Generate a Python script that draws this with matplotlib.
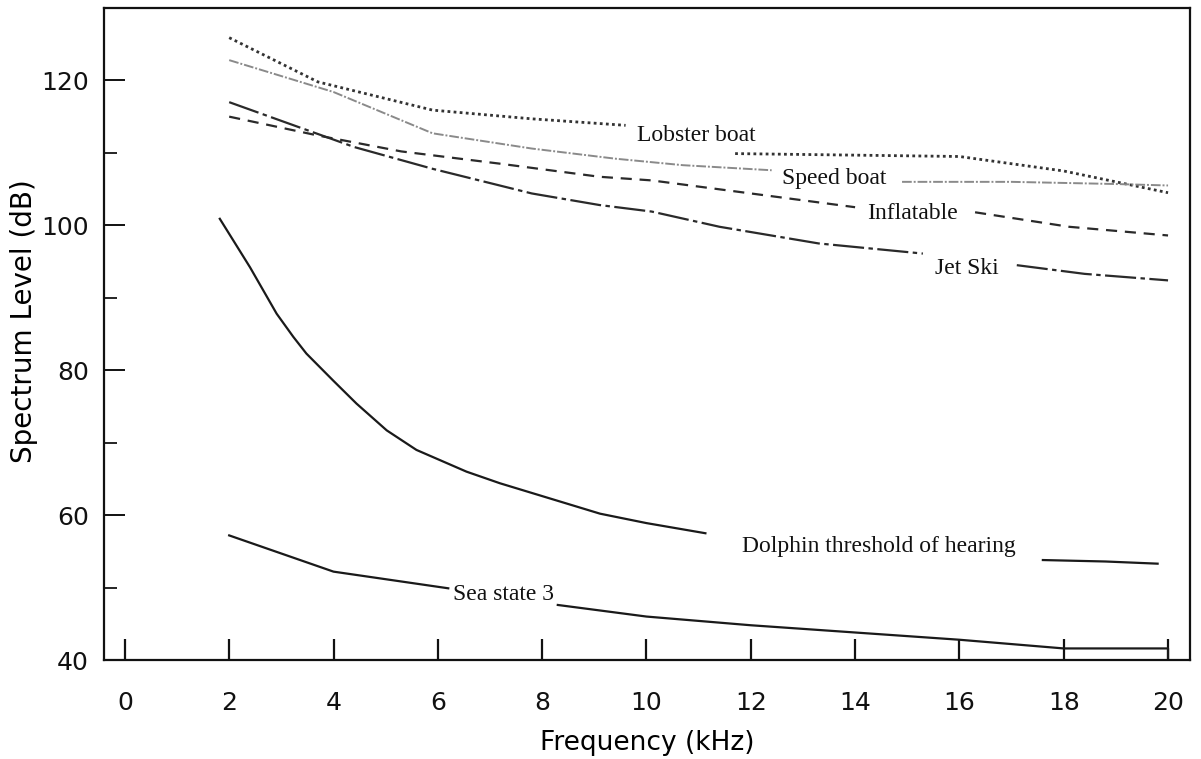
import numpy as np
import matplotlib
matplotlib.use("Agg")
import matplotlib.pyplot as plt
from matplotlib.ticker import MultipleLocator

nan = np.nan

# values (kHz, dB); nan marks the gap left for a label
lobster_khz = [2.0, 3.7, 5.9, 7.8, 9.6, nan, 11.7, 16.0, 18.0, 20.0]
lobster_db = [125.9, 119.8, 115.9, 114.7, 113.8, nan, 109.9, 109.5, 107.5, 104.5]

speed_khz = [2.0, 4.0, 5.9, 7.8, 9.4, 10.7, 12.4, nan, 14.9, 17.0, 19.0, 20.0]
speed_db = [122.8, 118.4, 112.7, 110.6, 109.2, 108.3, 107.6, nan, 106.0, 106.0, 105.7, 105.5]

inflatable_khz = [2.0, 3.7, 5.3, 7.2, 9.1, 10.1, 12.0, 14.0, nan, 16.3, 18.1, 20.0]
inflatable_db = [115.0, 112.4, 110.2, 108.5, 106.7, 106.2, 104.4, 102.5, nan, 101.8, 99.8, 98.6]

jetski_khz = [2.0, 4.4, 5.9, 7.8, 9.1, 10.1, 11.4, 13.3, 15.3, nan, 17.1, 18.4, 20.0]
jetski_db = [117.0, 110.8, 107.8, 104.4, 102.8, 101.9, 99.8, 97.5, 96.1, nan, 94.5, 93.3, 92.4]

dolphin_khz = [1.82, 2.08, 2.4, 2.91, 3.23, 3.48, 3.99, 4.44, 5.02, 5.59, 5.91, 6.55,
               7.19, 7.83, 8.47, 9.11, 10.0, 11.13, nan, 17.6, 18.8, 19.8]
dolphin_db = [100.9, 97.9, 94.2, 87.8, 84.6, 82.3, 78.6, 75.4, 71.7, 69.0, 68.0, 66.0,
              64.4, 63.0, 61.6, 60.2, 58.9, 57.5, nan, 53.8, 53.6, 53.3]

sea_khz = [2.0, 4.0, 6.2, nan, 8.3, 10.0, 12.0, 14.0, 16.0, 18.0, 20.0, 20.0]
sea_db = [57.2, 52.2, 49.9, nan, 47.6, 46.0, 44.8, 43.8, 42.8, 41.6, 41.6, 40.0]

# curve labels and where they sit (kHz, dB)
label_names = ["Lobster boat", "Speed boat", "Inflatable", "Jet Ski",
               "Dolphin threshold of hearing", "Sea state 3"]
label_khz = [10.95, 13.6, 15.1, 16.15, 14.45, 7.25]
label_db = [112.4, 106.4, 101.7, 94.1, 55.7, 49.0]

x_ticks = list(range(0, 21, 2))
y_ticks = [40, 60, 80, 100, 120]

fig = plt.figure(figsize=(12.01, 7.59), dpi=100)
ax = fig.add_axes([0.0866, 0.1304, 0.9042, 0.8591])

ax.plot(lobster_khz, lobster_db, color="#333333", lw=2.0, ls=(0, (1, 1.2)))
ax.plot(speed_khz, speed_db, color="#8a8a8a", lw=1.4, ls=(0, (5, 1, 1, 1)))
ax.plot(inflatable_khz, inflatable_db, color="#2a2a2a", lw=1.6, ls=(0, (5, 3.5)))
ax.plot(jetski_khz, jetski_db, color="#2a2a2a", lw=1.6, ls=(0, (14, 2, 2, 2)))
ax.plot(dolphin_khz, dolphin_db, color="#1a1a1a", lw=1.6)
ax.plot(sea_khz, sea_db, color="#1a1a1a", lw=1.6)

for name, xk, yd in zip(label_names, label_khz, label_db):
    ax.text(xk, yd, name, family="Liberation Serif", fontsize=17,
            ha="center", va="center", color="#111111")

ax.set_xlim(-0.40, 20.42)
ax.set_ylim(40, 130)
ax.set_xticks(x_ticks)
ax.set_yticks(y_ticks)
ax.yaxis.set_minor_locator(MultipleLocator(10))

ax.tick_params(axis="x", direction="in", length=15, width=1.6, pad=22,
               labelsize=18, colors="#111111")
ax.tick_params(axis="y", which="major", direction="in", length=15, width=1.4,
               pad=11, labelsize=18, colors="#111111")
ax.tick_params(axis="y", which="minor", direction="in", length=9, width=1.2)

for side in ["left", "bottom", "right", "top"]:
    ax.spines[side].set_linewidth(1.6)
    ax.spines[side].set_color("#111111")

ax.set_xlabel("Frequency (kHz)", fontsize=19, labelpad=11)
ax.set_ylabel("Spectrum Level (dB)", fontsize=20)
ax.yaxis.set_label_coords(-0.061, 0.52)

fig.savefig("out.png", dpi=100)
